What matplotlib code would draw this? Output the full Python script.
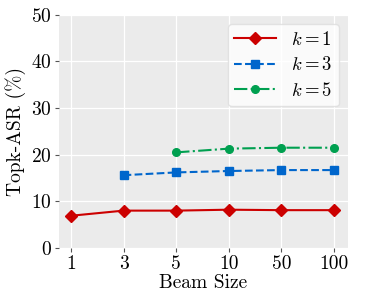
import matplotlib
matplotlib.use("Agg")
from matplotlib import pyplot as plt

beam_sizes = ["1", "3", "5", "10", "50", "100"]
k1 = [6.9, 8.0, 8.0, 8.2, 8.1, 8.1]
k3 = [15.6, 16.2, 16.5, 16.7, 16.7]
k5 = [20.5, 21.3, 21.5, 21.5]

plt.rcParams["font.family"] = "serif"
plt.rcParams["font.serif"] = ["cmr10"]
plt.rcParams["mathtext.fontset"] = "cm"
plt.rcParams["axes.formatter.use_mathtext"] = True

fig = plt.figure(figsize=(3.66, 2.92), dpi=100)
ax = fig.add_axes([0.161, 0.151, 0.79, 0.798])
ax.set_facecolor("#ebebeb")
for s in ax.spines.values():
    s.set_visible(False)
ax.grid(True, color="white", linewidth=0.9)
ax.set_axisbelow(True)

xs = list(range(len(beam_sizes)))
ax.plot(xs, k1, color="#cc0000", marker="D", markersize=6.5, lw=1.5, label=r"$k=1$")
ax.plot(xs[1:], k3, color="#0066cc", marker="s", markersize=6, lw=1.5, ls="--", label=r"$k=3$")
ax.plot(xs[2:], k5, color="#00a050", marker="o", markersize=5.5, lw=1.5, ls="-.", label=r"$k=5$")

ax.set_xticks(xs)
ax.set_xticklabels(beam_sizes)
ax.set_ylim(0, 50)
ax.set_yticks([0, 10, 20, 30, 40, 50])
ax.set_xlim(-0.23, 5.27)
ax.tick_params(labelsize=14, color="#555555", length=3, pad=2)
ax.set_xlabel("Beam Size", fontsize=14, labelpad=1)
ax.set_ylabel("Topk-ASR (%)", fontsize=14, labelpad=4)

leg = ax.legend(loc="upper right", fontsize=13.5, frameon=True, handlelength=2.2,
                handletextpad=0.8, fancybox=True, borderpad=0.35, labelspacing=0.4,
                borderaxespad=0.5)
leg.get_frame().set_facecolor("white")
leg.get_frame().set_edgecolor("#dddddd")

fig.savefig("out.png", dpi=100)
